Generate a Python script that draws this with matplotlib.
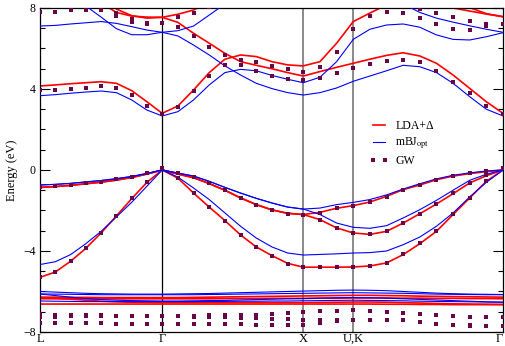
import numpy as np
import matplotlib
matplotlib.use("Agg")
import matplotlib.pyplot as plt
from matplotlib.ticker import MultipleLocator

plt.rcParams["font.family"] = "serif"
plt.rcParams["font.serif"] = ["Liberation Serif", "DejaVu Serif"]
plt.rcParams["mathtext.fontset"] = "stix"

# k-path L-G-X-U|K-G, segment lengths in 2pi/a and number of k points per segment
seg_len = [0.866, 1.0, 0.354, 1.061]
seg_pts = [9, 10, 4, 10]
kpt_labels = ["L", "Γ", "X", "U,K", "Γ"]

# band energies (eV) on the k path: L..G | ..X | ..U,K | ..G
# LDA+Delta
lda_val = [
    [-0.86, -0.82, -0.76, -0.68, -0.60, -0.50, -0.37, -0.20, 0.00,
     -0.20, -0.38, -0.67, -1.00, -1.38, -1.71, -1.97, -2.14, -2.20,
     -2.09, -1.89, -1.76,
     -1.58, -1.30, -0.97, -0.74, -0.48, -0.30, -0.18, -0.08, 0.00],
    [-0.86, -0.82, -0.76, -0.68, -0.60, -0.50, -0.37, -0.20, 0.00,
     -0.20, -0.38, -0.67, -1.00, -1.38, -1.71, -1.97, -2.14, -2.20,
     -2.45, -2.86, -3.11,
     -3.18, -3.03, -2.62, -2.16, -1.68, -1.17, -0.64, -0.28, 0.00],
    [-5.30, -5.04, -4.51, -3.87, -3.11, -2.27, -1.42, -0.61, 0.00,
     -0.40, -1.14, -1.83, -2.50, -3.21, -3.80, -4.23, -4.61, -4.80,
     -4.80, -4.80, -4.79,
     -4.74, -4.59, -4.18, -3.64, -3.03, -2.20, -1.38, -0.56, 0.00],
]
lda_d = [
    [-6.28, -6.28, -6.29, -6.29, -6.30, -6.30, -6.30, -6.30, -6.30,
     -6.30, -6.29, -6.28, -6.27, -6.26, -6.25, -6.24, -6.23, -6.22,
     -6.21, -6.20, -6.19,
     -6.19, -6.20, -6.21, -6.23, -6.24, -6.25, -6.26, -6.27, -6.28],
    [-6.36, -6.36, -6.36, -6.36, -6.36, -6.36, -6.36, -6.36, -6.36,
     -6.36, -6.36, -6.36, -6.35, -6.35, -6.35, -6.34, -6.34, -6.34,
     -6.33, -6.33, -6.32,
     -6.32, -6.32, -6.33, -6.33, -6.34, -6.34, -6.35, -6.35, -6.36],
    [-6.30, -6.33, -6.38, -6.43, -6.48, -6.51, -6.53, -6.54, -6.55,
     -6.55, -6.55, -6.55, -6.55, -6.55, -6.55, -6.55, -6.55, -6.55,
     -6.54, -6.53, -6.52,
     -6.52, -6.53, -6.55, -6.57, -6.59, -6.61, -6.62, -6.63, -6.64],
    [-6.62, -6.62, -6.62, -6.62, -6.62, -6.62, -6.62, -6.62, -6.62,
     -6.62, -6.62, -6.62, -6.62, -6.62, -6.62, -6.62, -6.62, -6.62,
     -6.62, -6.62, -6.62,
     -6.62, -6.63, -6.63, -6.64, -6.64, -6.65, -6.65, -6.65, -6.65],
]
lda_cond = [
    [4.15, 4.20, 4.26, 4.31, 4.36, 4.28, 3.92, 3.37, 2.80,
     3.16, 3.95, 4.81, 5.47, 5.68, 5.60, 5.35, 5.19, 5.14,
     5.35, 6.26, 7.33,
     7.75, 8.15, 8.40, 8.50, 8.45, 8.00, 7.85, 7.70, 7.57],
    [9.60, 9.40, 9.20, 8.90, 8.25, 7.78, 7.60, 7.55, 7.54,
     7.29, 6.75, 6.26, 5.76, 5.35, 5.17, 5.00, 4.81, 4.64,
     4.86, 5.07, 5.27,
     5.47, 5.66, 5.79, 5.63, 5.27, 4.69, 4.03, 3.37, 2.80],
    [10.0, 9.90, 9.70, 9.40, 8.90, 7.95, 7.62, 7.50, 7.54,
     7.69, 7.90, 8.30, 8.80, 9.30, 9.70, 10.0, 10.2, 10.3,
     10.3, 10.2, 10.1,
     9.80, 9.50, 9.20, 8.90, 8.60, 8.30, 8.02, 7.72, 7.57],
]

# mBJ_opt
mbj_val = [
    [-0.74, -0.71, -0.66, -0.59, -0.52, -0.43, -0.32, -0.17, 0.00,
     -0.15, -0.30, -0.56, -0.86, -1.14, -1.40, -1.63, -1.83, -1.93,
     -1.88, -1.71, -1.60,
     -1.46, -1.23, -0.94, -0.68, -0.44, -0.26, -0.14, -0.05, 0.00],
    [-0.74, -0.71, -0.66, -0.59, -0.52, -0.43, -0.32, -0.17, 0.00,
     -0.15, -0.30, -0.56, -0.86, -1.14, -1.40, -1.63, -1.83, -1.93,
     -2.20, -2.62, -2.83,
     -2.88, -2.75, -2.37, -1.96, -1.50, -1.00, -0.51, -0.21, 0.00],
    [-4.67, -4.53, -4.18, -3.64, -3.03, -2.32, -1.60, -0.80, 0.00,
     -0.35, -0.89, -1.46, -2.12, -2.78, -3.36, -3.80, -4.10, -4.20,
     -4.17, -4.14, -4.10,
     -4.08, -4.00, -3.69, -3.31, -2.78, -2.12, -1.33, -0.61, 0.00],
]
mbj_d = [
    [-6.00, -6.03, -6.06, -6.09, -6.11, -6.12, -6.13, -6.13, -6.13,
     -6.12, -6.11, -6.10, -6.08, -6.06, -6.04, -6.02, -6.00, -5.98,
     -5.96, -5.94, -5.93,
     -5.94, -5.96, -6.00, -6.04, -6.08, -6.11, -6.13, -6.14, -6.15],
    [-6.12, -6.13, -6.14, -6.15, -6.16, -6.16, -6.16, -6.16, -6.16,
     -6.16, -6.16, -6.15, -6.14, -6.13, -6.12, -6.11, -6.10, -6.09,
     -6.08, -6.07, -6.06,
     -6.07, -6.08, -6.09, -6.11, -6.13, -6.14, -6.15, -6.16, -6.16],
    [-6.13, -6.20, -6.28, -6.35, -6.40, -6.43, -6.45, -6.46, -6.47,
     -6.47, -6.46, -6.45, -6.44, -6.42, -6.40, -6.38, -6.36, -6.35,
     -6.33, -6.31, -6.30,
     -6.31, -6.33, -6.36, -6.39, -6.42, -6.45, -6.48, -6.51, -6.53],
    [-6.47, -6.48, -6.49, -6.50, -6.50, -6.50, -6.50, -6.50, -6.50,
     -6.50, -6.50, -6.49, -6.49, -6.48, -6.48, -6.47, -6.47, -6.46,
     -6.45, -6.44, -6.43,
     -6.44, -6.45, -6.46, -6.48, -6.49, -6.50, -6.51, -6.52, -6.53],
]
mbj_cond = [
    [3.67, 3.72, 3.79, 3.85, 3.90, 3.82, 3.46, 2.96, 2.67,
     2.88, 3.46, 4.20, 4.81, 4.97, 4.90, 4.67, 4.48, 4.31,
     4.58, 5.35, 6.45,
     6.95, 7.16, 7.21, 7.05, 6.67, 6.45, 6.42, 6.58, 6.78],
    [8.90, 8.70, 8.40, 8.10, 7.55, 6.98, 6.68, 6.68, 6.80,
     6.62, 6.17, 5.68, 5.14, 4.69, 4.28, 4.02, 3.82, 3.70,
     3.82, 4.05, 4.38,
     4.64, 4.90, 5.17, 5.10, 4.81, 4.28, 3.62, 3.00, 2.67],
    [7.11, 7.14, 7.21, 7.27, 7.33, 7.24, 7.08, 6.91, 6.80,
     6.88, 7.11, 7.65, 8.20, 8.80, 9.20, 9.50, 9.70, 9.80,
     9.80, 9.70, 9.50,
     9.00, 8.60, 8.20, 7.78, 7.50, 7.30, 7.12, 6.95, 6.80],
]

# GW
gw_val = [
    [-0.85, -0.80, -0.74, -0.66, -0.57, -0.46, -0.33, -0.15, 0.08,
     -0.17, -0.36, -0.66, -1.00, -1.38, -1.72, -1.98, -2.15, -2.22,
     -2.10, -1.90, -1.78,
     -1.60, -1.32, -1.00, -0.76, -0.50, -0.31, -0.17, -0.05, 0.08],
    [-0.85, -0.80, -0.74, -0.66, -0.57, -0.46, -0.33, -0.15, 0.08,
     -0.17, -0.36, -0.66, -1.00, -1.38, -1.72, -1.98, -2.15, -2.22,
     -2.47, -2.88, -3.13,
     -3.18, -3.03, -2.62, -2.16, -1.68, -1.15, -0.62, -0.25, 0.08],
    [-5.28, -5.02, -4.50, -3.86, -3.10, -2.26, -1.40, -0.58, 0.08,
     -0.38, -1.12, -1.82, -2.50, -3.20, -3.80, -4.23, -4.62, -4.78,
     -4.78, -4.78, -4.78,
     -4.74, -4.58, -4.17, -3.63, -3.02, -2.19, -1.36, -0.54, 0.08],
]
gw_d = [
    [-7.12, -7.14, -7.16, -7.17, -7.18, -7.19, -7.20, -7.20, -7.20,
     -7.20, -7.19, -7.18, -7.17, -7.16, -7.14, -7.12, -7.08, -7.03,
     -6.98, -6.95, -6.93,
     -6.95, -7.00, -7.06, -7.12, -7.17, -7.21, -7.24, -7.25, -7.26],
    [-7.25, -7.24, -7.22, -7.21, -7.20, -7.20, -7.20, -7.20, -7.20,
     -7.22, -7.24, -7.26, -7.28, -7.30, -7.33, -7.36, -7.38, -7.40,
     -7.40, -7.39, -7.39,
     -7.39, -7.39, -7.40, -7.52, -7.60, -7.65, -7.67, -7.69, -7.69],
    [-7.55, -7.56, -7.57, -7.58, -7.58, -7.59, -7.60, -7.60, -7.60,
     -7.60, -7.61, -7.62, -7.63, -7.63, -7.64, -7.64, -7.65, -7.65,
     -7.58, -7.48, -7.40,
     -7.40, -7.40, -7.41, -7.53, -7.61, -7.66, -7.68, -7.69, -7.69],
]
gw_cond = [
    [3.95, 3.93, 4.00, 4.06, 4.13, 4.06, 3.70, 3.16, 2.75,
     3.10, 3.92, 4.64, 5.19, 5.17, 4.89, 4.63, 4.48, 4.44,
     4.56, 4.77, 5.02,
     5.22, 5.40, 5.45, 5.32, 4.90, 4.36, 3.82, 3.16, 2.75],
    [9.50, 9.30, 9.00, 8.60, 8.30, 7.75, 7.45, 7.28, 7.24,
     7.08, 6.62, 6.09, 5.68, 5.45, 5.33, 5.15, 4.97, 4.86,
     5.10, 5.84, 6.95,
     7.60, 7.82, 7.75, 7.52, 7.20, 6.95, 6.93, 7.10, 7.20],
    [7.82, 7.82, 7.88, 7.90, 7.88, 7.62, 7.30, 7.22, 7.24,
     7.57, 7.74, 8.05, 8.50, 8.90, 9.20, 9.40, 9.50, 9.60,
     9.50, 9.30, 9.00,
     8.80, 8.50, 8.20, 7.93, 7.75, 7.55, 7.38, 7.22, 7.20],
]

# build k coordinates along the path
k = [np.linspace(0.0, seg_len[0], seg_pts[0])]
k0 = seg_len[0]
for length, n in zip(seg_len[1:], seg_pts[1:]):
    k.append(np.linspace(k0, k0 + length, n)[1:])
    k0 += length
k = np.concatenate(k)
kpt_pos = np.concatenate([[0.0], np.cumsum(seg_len)])

fig = plt.figure(figsize=(5.05, 3.46), dpi=100)
ax = fig.add_axes([0.0792, 0.0405, 0.9168, 0.9364])

# high-symmetry lines
ax.axvline(kpt_pos[1], color="black", lw=0.9, zorder=1)
for kp in kpt_pos[2:4]:
    ax.axvline(kp, color="#808080", lw=1.3, zorder=1)

red, blue, maroon = "#ff0000", "#0000ff", "#670748"
for i, band in enumerate(lda_val + lda_d + lda_cond):
    ax.plot(k, band, color=red, lw=1.2, zorder=2,
            label="LDA+Δ" if i == 0 else None)
for i, band in enumerate(mbj_val + mbj_d + mbj_cond):
    ax.plot(k, band, color=blue, lw=0.8, zorder=3,
            label=r"mBJ$_\mathrm{opt}$" if i == 0 else None)
for i, band in enumerate(gw_val + gw_d + gw_cond):
    ax.plot(k, band, "s", color=maroon, ms=2.2, mew=0, zorder=4,
            label="GW" if i == 0 else None)

ax.set_xlim(kpt_pos[0], kpt_pos[-1])
ax.set_ylim(-8, 8)
ax.set_xticks(kpt_pos)
ax.set_xticklabels(kpt_labels, fontsize=9)
ax.get_xticklabels()[-1].set_horizontalalignment("right")
ax.tick_params(axis="x", length=0, pad=0.5)
ax.set_yticks([-8, -4, 0, 4, 8])
ax.yaxis.set_minor_locator(MultipleLocator(1))
ax.tick_params(axis="y", which="both", direction="in", right=True,
               labelsize=8.5, width=0.8, pad=3)
ax.tick_params(axis="y", which="major", length=7)
ax.tick_params(axis="y", which="minor", length=3.5)
for sp in ax.spines.values():
    sp.set_linewidth(0.9)
ax.set_ylabel("Energy (eV)", fontsize=9, labelpad=4)

ax.legend(loc="upper left", bbox_to_anchor=(0.688, 0.688), frameon=False,
          fontsize=8.5, numpoints=2, handlelength=1.6, labelspacing=0.35,
          handletextpad=0.6)

fig.savefig("out.png", dpi=100, facecolor="white")
